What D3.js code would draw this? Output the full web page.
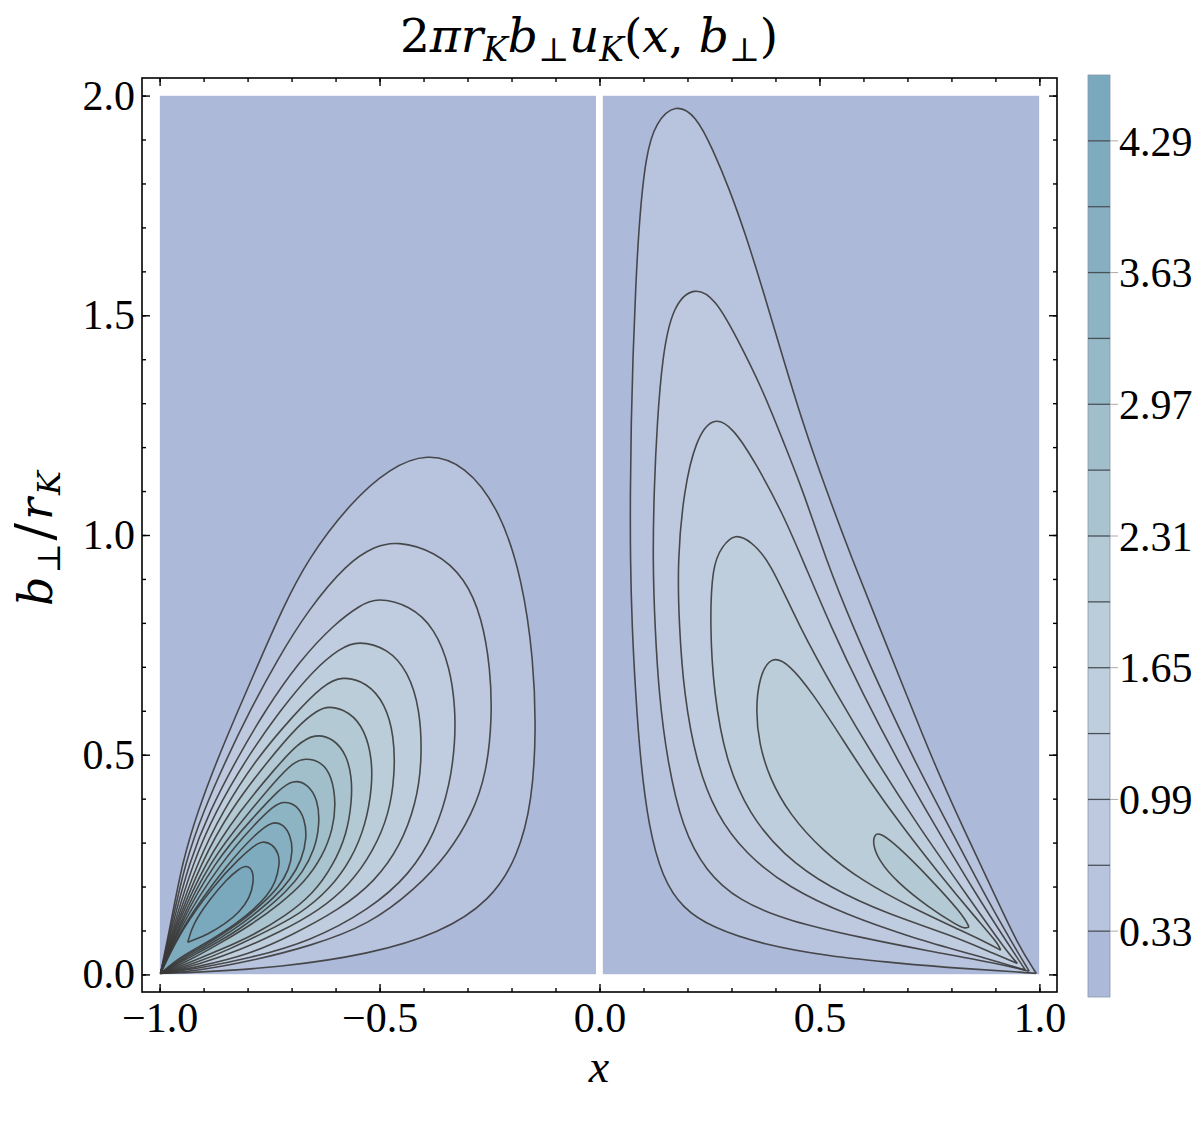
<!DOCTYPE html>
<html><head><meta charset="utf-8">
<script src="https://cdn.jsdelivr.net/npm/d3@7"></script>
<style>
body{margin:0;background:#fff}
svg text{font-family:"Liberation Serif","Times New Roman",serif;fill:#000}
svg text.math{font-family:"DejaVu Serif",serif}
</style>
</head><body><svg id="c" width="1202" height="1125"></svg>
<script>
// ---------- data ----------
const levels = [0.33,0.66,0.99,1.32,1.65,1.98,2.31,2.64,2.97,3.30,3.63,3.96,4.29];
const colorbarRange = [0, 4.62];
const colorbarLabels = [0.33,0.99,1.65,2.31,2.97,3.63,4.29];
const xTickValues = [-1,-0.5,0,0.5,1];
const yTickValues = [0,0.5,1,1.5,2];
const bandColors = ["#adb9d9","#b8c3de","#bec9e0","#c0cde0","#bfcedd","#bacdd9","#b3c9d4","#aac4cf","#a0bfcb","#96b9c7","#8db4c3","#86b0c1","#7fabbe","#7aa8bc"];

// contour lines (x, b_perp/r_K)
const left033 = [[-0.998,0.002],[-0.977,0.103],[-0.948,0.258],[-0.913,0.372],[-0.870,0.486],[-0.822,0.600],[-0.772,0.715],[-0.722,0.829],[-0.665,0.943],[-0.567,1.073],[-0.476,1.153],[-0.392,1.187],[-0.305,1.160],[-0.226,1.057],[-0.175,0.897],[-0.150,0.715],[-0.144,0.555],[-0.153,0.395],[-0.185,0.269],[-0.248,0.167],[-0.362,0.094],[-0.522,0.046],[-0.727,0.016],[-0.909,0.005]];
const left066 = [[-0.998,0.002],[-0.975,0.103],[-0.941,0.258],[-0.900,0.372],[-0.850,0.486],[-0.795,0.600],[-0.733,0.715],[-0.663,0.829],[-0.574,0.936],[-0.510,0.975],[-0.460,0.986],[-0.374,0.963],[-0.305,0.902],[-0.267,0.811],[-0.248,0.696],[-0.244,0.582],[-0.257,0.457],[-0.289,0.365],[-0.344,0.274],[-0.419,0.194],[-0.522,0.114],[-0.658,0.064],[-0.795,0.030],[-0.909,0.009]];
const left099 = [[-0.998,0.002],[-0.973,0.103],[-0.932,0.258],[-0.886,0.372],[-0.827,0.486],[-0.761,0.600],[-0.681,0.715],[-0.601,0.799],[-0.544,0.840],[-0.506,0.858],[-0.431,0.840],[-0.374,0.788],[-0.339,0.696],[-0.328,0.605],[-0.328,0.532],[-0.339,0.434],[-0.374,0.320],[-0.431,0.228],[-0.522,0.148],[-0.658,0.075],[-0.795,0.037],[-0.909,0.014]];
const left132 = [[-0.998,0.002],[-0.970,0.103],[-0.923,0.258],[-0.872,0.372],[-0.806,0.486],[-0.727,0.600],[-0.647,0.696],[-0.590,0.742],[-0.549,0.760],[-0.481,0.742],[-0.435,0.689],[-0.408,0.605],[-0.403,0.486],[-0.417,0.388],[-0.453,0.292],[-0.510,0.212],[-0.590,0.148],[-0.704,0.087],[-0.795,0.046],[-0.909,0.018]];
const left165 = [[-0.998,0.002],[-0.968,0.103],[-0.913,0.258],[-0.856,0.372],[-0.784,0.486],[-0.692,0.594],[-0.629,0.658],[-0.585,0.680],[-0.528,0.664],[-0.487,0.616],[-0.467,0.543],[-0.465,0.457],[-0.478,0.365],[-0.515,0.279],[-0.567,0.205],[-0.636,0.146],[-0.727,0.096],[-0.818,0.055],[-0.909,0.023]];
const left198 = [[-0.998,0.002],[-0.966,0.103],[-0.904,0.258],[-0.841,0.372],[-0.754,0.486],[-0.681,0.571],[-0.642,0.600],[-0.617,0.612],[-0.567,0.598],[-0.533,0.555],[-0.517,0.491],[-0.517,0.425],[-0.531,0.342],[-0.563,0.263],[-0.613,0.194],[-0.681,0.137],[-0.761,0.096],[-0.841,0.057],[-0.920,0.025]];
const left231 = [[-0.998,0.002],[-0.964,0.103],[-0.895,0.258],[-0.818,0.372],[-0.738,0.468],[-0.686,0.525],[-0.647,0.548],[-0.604,0.537],[-0.574,0.498],[-0.563,0.447],[-0.563,0.395],[-0.574,0.320],[-0.606,0.247],[-0.651,0.183],[-0.715,0.132],[-0.784,0.091],[-0.859,0.057],[-0.932,0.027]];
const left264 = [[-0.998,0.002],[-0.961,0.103],[-0.886,0.258],[-0.800,0.365],[-0.733,0.445],[-0.697,0.482],[-0.670,0.493],[-0.631,0.484],[-0.608,0.450],[-0.599,0.388],[-0.606,0.331],[-0.629,0.269],[-0.670,0.210],[-0.727,0.160],[-0.790,0.114],[-0.859,0.073],[-0.932,0.032]];
const left297 = [[-0.998,0.002],[-0.959,0.103],[-0.875,0.258],[-0.784,0.361],[-0.727,0.422],[-0.697,0.443],[-0.663,0.434],[-0.640,0.397],[-0.636,0.342],[-0.647,0.285],[-0.674,0.233],[-0.713,0.187],[-0.763,0.144],[-0.818,0.103],[-0.877,0.068],[-0.941,0.034]];
const left330 = [[-0.998,0.002],[-0.957,0.103],[-0.859,0.258],[-0.779,0.347],[-0.743,0.381],[-0.720,0.395],[-0.688,0.386],[-0.670,0.354],[-0.665,0.311],[-0.677,0.260],[-0.702,0.217],[-0.738,0.176],[-0.784,0.137],[-0.834,0.100],[-0.886,0.068],[-0.943,0.037]];
const left363 = [[-0.998,0.002],[-0.954,0.103],[-0.841,0.258],[-0.781,0.320],[-0.745,0.349],[-0.718,0.342],[-0.702,0.315],[-0.697,0.281],[-0.706,0.237],[-0.729,0.199],[-0.763,0.164],[-0.804,0.128],[-0.850,0.096],[-0.897,0.066],[-0.950,0.037]];
const left396 = [[-0.998,0.002],[-0.950,0.103],[-0.875,0.205],[-0.818,0.265],[-0.786,0.292],[-0.768,0.304],[-0.743,0.297],[-0.729,0.274],[-0.727,0.251],[-0.736,0.210],[-0.756,0.178],[-0.786,0.148],[-0.822,0.119],[-0.863,0.091],[-0.904,0.066],[-0.954,0.039]];
const left429 = [[-0.936,0.073],[-0.925,0.114],[-0.886,0.171],[-0.847,0.217],[-0.820,0.240],[-0.802,0.249],[-0.788,0.237],[-0.786,0.210],[-0.795,0.174],[-0.818,0.142],[-0.852,0.114],[-0.891,0.091],[-0.923,0.078]];

const right033 = [[0.993,0.002],[0.977,0.004],[0.826,0.013],[0.674,0.026],[0.522,0.041],[0.371,0.068],[0.257,0.106],[0.188,0.151],[0.143,0.220],[0.112,0.334],[0.093,0.486],[0.082,0.639],[0.074,0.791],[0.070,0.943],[0.070,1.103],[0.072,1.255],[0.076,1.407],[0.082,1.559],[0.090,1.712],[0.105,1.864],[0.128,1.940],[0.173,1.982],[0.219,1.955],[0.257,1.879],[0.295,1.788],[0.333,1.681],[0.371,1.559],[0.416,1.407],[0.462,1.255],[0.515,1.103],[0.575,0.943],[0.636,0.791],[0.697,0.639],[0.758,0.486],[0.826,0.334],[0.898,0.182],[0.951,0.068]];
const right066 = [[0.977,0.007],[0.902,0.026],[0.750,0.053],[0.598,0.083],[0.431,0.121],[0.317,0.167],[0.241,0.235],[0.188,0.334],[0.154,0.486],[0.135,0.639],[0.126,0.791],[0.121,0.943],[0.124,1.103],[0.131,1.255],[0.143,1.407],[0.166,1.521],[0.215,1.567],[0.264,1.537],[0.310,1.453],[0.371,1.331],[0.416,1.217],[0.462,1.103],[0.515,0.943],[0.576,0.791],[0.644,0.639],[0.716,0.486],[0.796,0.334],[0.875,0.182],[0.940,0.068]];
const right099 = [[0.968,0.010],[0.864,0.041],[0.712,0.083],[0.560,0.136],[0.431,0.197],[0.333,0.273],[0.264,0.365],[0.219,0.486],[0.192,0.639],[0.181,0.791],[0.177,0.943],[0.192,1.103],[0.219,1.217],[0.257,1.270],[0.302,1.247],[0.355,1.164],[0.416,1.050],[0.462,0.943],[0.526,0.791],[0.598,0.639],[0.678,0.486],[0.765,0.334],[0.856,0.182],[0.935,0.060]];
const right132 = [[0.950,0.025],[0.902,0.045],[0.796,0.091],[0.659,0.136],[0.522,0.197],[0.416,0.273],[0.340,0.365],[0.287,0.486],[0.260,0.639],[0.251,0.791],[0.256,0.930],[0.279,0.975],[0.308,1.004],[0.345,0.985],[0.386,0.943],[0.454,0.791],[0.538,0.639],[0.629,0.486],[0.727,0.334],[0.834,0.182],[0.925,0.053]];
const right165 = [[0.912,0.055],[0.885,0.070],[0.826,0.098],[0.712,0.151],[0.598,0.212],[0.507,0.281],[0.431,0.365],[0.386,0.448],[0.363,0.524],[0.355,0.600],[0.363,0.677],[0.390,0.726],[0.431,0.707],[0.485,0.639],[0.545,0.547],[0.613,0.441],[0.690,0.334],[0.773,0.228],[0.849,0.136],[0.905,0.072]];
const right198 = [[0.840,0.108],[0.830,0.104],[0.811,0.113],[0.750,0.151],[0.674,0.212],[0.636,0.258],[0.621,0.296],[0.625,0.318],[0.636,0.323],[0.674,0.296],[0.750,0.220],[0.826,0.136]];

const leftContours = [left033,left066,left099,left132,left165,left198,left231,left264,left297,left330,left363,left396,left429];
const rightContours = [right033,right066,right099,right132,right165,right198];

// ---------- drawing ----------
const svg = d3.select('#c');
const x = d3.scaleLinear().domain([-1.04,1.04]).range([142,1057]);
const y = d3.scaleLinear().domain([-0.04,2.04]).range([992,78]);
const cs = d3.scaleLinear().domain(colorbarRange).range([997,75]);
const bandColor = d3.scaleThreshold().domain(levels).range(bandColors);

const line = d3.line().x(d=>x(d[0])).y(d=>y(d[1])).curve(d3.curveBasisClosed);
const shape = c => line([c[0], c[0], ...c]);
const defs = svg.append('defs');

function panel(id, x0, x1, contours){
  defs.append('clipPath').attr('id',id).append('rect')
    .attr('x',x(x0)).attr('y',y(2)).attr('width',x(x1)-x(x0)).attr('height',y(0)-y(2));
  const g = svg.append('g').attr('clip-path',`url(#${id})`);
  g.append('rect').attr('x',x(x0)).attr('y',y(2)).attr('width',x(x1)-x(x0)).attr('height',y(0)-y(2))
    .attr('fill',bandColors[0]);
  contours.forEach((c,i)=>{
    g.append('path').attr('d',shape(c)).attr('fill',bandColor(levels[i]));
  });
  contours.forEach(c=>{
    g.append('path').attr('d',shape(c)).attr('fill','none')
      .attr('stroke','#3a3a3a').attr('stroke-width',1.6).attr('stroke-opacity',0.9);
  });
}
panel('clipL',-1,-0.008,leftContours);
panel('clipR',0.007,1,rightContours);

// frame
svg.append('rect').attr('x',142).attr('y',78).attr('width',915).attr('height',914)
  .attr('fill','none').attr('stroke','#000').attr('stroke-width',1.6);

const fmt = d3.format('.1f');
const minorX = d3.range(-10,11).map(v=>v/10);
const minorY = d3.range(0,21).map(v=>v/10);
const tickStyle = g=>{g.select('.domain').remove(); g.selectAll('line').attr('stroke','#000').attr('stroke-width',1.4);};

svg.append('g').attr('transform','translate(0,992)').call(d3.axisBottom(x).tickValues(minorX).tickSize(-4).tickFormat('')).call(tickStyle);
svg.append('g').attr('transform','translate(0,78)').call(d3.axisTop(x).tickValues(minorX).tickSize(-4).tickFormat('')).call(tickStyle);
svg.append('g').attr('transform','translate(142,0)').call(d3.axisLeft(y).tickValues(minorY).tickSize(-4).tickFormat('')).call(tickStyle);
svg.append('g').attr('transform','translate(1057,0)').call(d3.axisRight(y).tickValues(minorY).tickSize(-4).tickFormat('')).call(tickStyle);
const bx = svg.append('g').attr('transform','translate(0,992)').call(d3.axisBottom(x).tickValues(xTickValues).tickSize(-8).tickPadding(10).tickFormat(fmt)).call(tickStyle);
svg.append('g').attr('transform','translate(0,78)').call(d3.axisTop(x).tickValues(xTickValues).tickSize(-8).tickFormat('')).call(tickStyle);
const ly = svg.append('g').attr('transform','translate(142,0)').call(d3.axisLeft(y).tickValues(yTickValues).tickSize(-8).tickPadding(7).tickFormat(fmt)).call(tickStyle);
svg.append('g').attr('transform','translate(1057,0)').call(d3.axisRight(y).tickValues(yTickValues).tickSize(-8).tickFormat('')).call(tickStyle);
[bx,ly].forEach(g=>g.selectAll('text').attr('font-size',42).attr('font-family','"Liberation Serif",serif').attr('fill','#000'));

// axis labels
svg.append('text').attr('x',599).attr('y',1082).attr('text-anchor','middle')
  .attr('font-size',46).attr('font-style','italic').text('x');
const yl = svg.append('text').attr('class','math').attr('transform','translate(52,537) rotate(-90)')
  .attr('text-anchor','middle').attr('font-size',46).attr('letter-spacing',3);
yl.append('tspan').attr('font-style','italic').text('b');
yl.append('tspan').attr('font-size',32).attr('dy',8).text('⊥');
yl.append('tspan').attr('dy',-8).attr('font-size',52).text('/');
yl.append('tspan').attr('font-style','italic').text('r');
yl.append('tspan').attr('font-style','italic').attr('font-size',32).attr('dy',8).text('K');

// title
const t = svg.append('text').attr('class','math').attr('x',589).attr('y',52).attr('text-anchor','middle').attr('font-size',47);
t.append('tspan').text('2');
t.append('tspan').attr('font-style','italic').text('πr');
t.append('tspan').attr('font-style','italic').attr('font-size',33).attr('dy',9).text('K');
t.append('tspan').attr('font-style','italic').attr('dy',-9).text('b');
t.append('tspan').attr('font-size',33).attr('dy',9).text('⊥');
t.append('tspan').attr('font-style','italic').attr('dy',-9).text('u');
t.append('tspan').attr('font-style','italic').attr('font-size',33).attr('dy',9).text('K');
t.append('tspan').attr('dy',-9).text('(');
t.append('tspan').attr('font-style','italic').text('x');
t.append('tspan').text(', ');
t.append('tspan').attr('font-style','italic').text('b');
t.append('tspan').attr('font-size',33).attr('dy',9).text('⊥');
t.append('tspan').attr('dy',-9).text(')');

// colorbar
const edges = [colorbarRange[0], ...levels, colorbarRange[1]];
const cb = svg.append('g');
cb.selectAll('rect.band').data(d3.range(edges.length-1)).join('rect').attr('class','band')
  .attr('x',1088).attr('width',22)
  .attr('y',i=>cs(edges[i+1])).attr('height',i=>cs(edges[i])-cs(edges[i+1]))
  .attr('fill',i=>bandColors[i]);
cb.append('rect').attr('x',1088).attr('y',cs(colorbarRange[1])).attr('width',22)
  .attr('height',cs(colorbarRange[0])-cs(colorbarRange[1])).attr('fill','none')
  .attr('stroke','#8796ad').attr('stroke-width',0.8);
cb.selectAll('line.sep').data(levels).join('line').attr('class','sep')
  .attr('x1',1088).attr('x2',1110).attr('y1',d=>cs(d)).attr('y2',d=>cs(d))
  .attr('stroke','#4a5058').attr('stroke-width',1.3);
cb.selectAll('line.tk').data(colorbarLabels).join('line').attr('class','tk')
  .attr('x1',1110).attr('x2',1118).attr('y1',d=>cs(d)).attr('y2',d=>cs(d))
  .attr('stroke','#aaa').attr('stroke-width',1);
cb.selectAll('text').data(colorbarLabels).join('text')
  .attr('x',1119).attr('y',d=>cs(d)).attr('dy','0.35em').attr('font-size',42)
  .text(d=>d.toFixed(2));
</script>
</body></html>
